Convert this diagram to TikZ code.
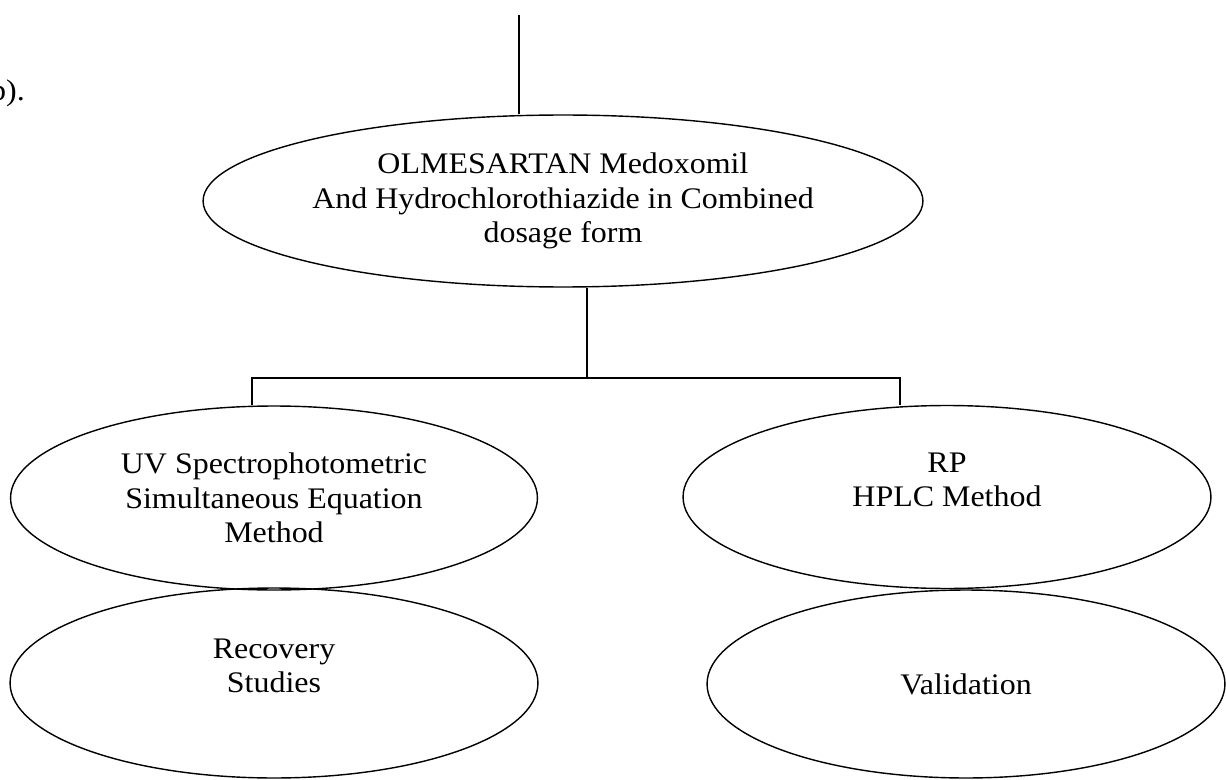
\documentclass[tikz,border=0pt]{standalone}
\usepackage{fontspec}
\setmainfont{Liberation Serif}[FakeStretch=1.07]
\usepackage{tikz}
\usetikzlibrary{shapes.geometric}

\begin{document}
\begin{tikzpicture}[
    x=0.02cm, y=-0.02cm,
    align=center,
    oval/.style={draw, ellipse, inner sep=0pt, line width=0.8pt, font=\fontsize{17}{19.5}\selectfont},
    link/.style={line width=0.8pt}
]
    \useasboundingbox (0,0) rectangle (1226,780);
    \clip (0,0) rectangle (1226,780);

    % Nodes
    \node[anchor=base east, font=\fontsize{17}{19.5}\selectfont] (frag) at (31,101) {(b).};
    \node[oval, minimum width=14.4cm, minimum height=3.44cm] (olm) at (563,201)
        {OLMESARTAN Medoxomil\\And Hydrochlorothiazide in Combined\\dosage form};
    \node[oval, minimum width=10.54cm, minimum height=3.68cm] (uv) at (274,498)
        {UV Spectrophotometric\\Simultaneous Equation\\Method};
    \node[oval, minimum width=10.56cm, minimum height=3.66cm] (hplc) at (947,497)
        {RP\\HPLC Method\\\mbox{}};
    \node[oval, minimum width=10.56cm, minimum height=3.8cm] (rec) at (274,683)
        {Recovery\\Studies\\\mbox{}};
    \node[oval, minimum width=10.36cm, minimum height=3.76cm] (val) at (966,684)
        {Validation};

    % Connections
    \coordinate (top) at (519,15);
    \coordinate (hub) at (587,378);
    \coordinate (lft) at (252,378);
    \coordinate (rgt) at (900,378);
    \draw[link] (top) -- (top |- olm.north);
    \draw[link] (hub |- olm.south) -- (hub);
    \draw[link] (lft |- uv.north) -- (lft) -- (rgt) -- (rgt |- hplc.north);
\end{tikzpicture}
\end{document}
